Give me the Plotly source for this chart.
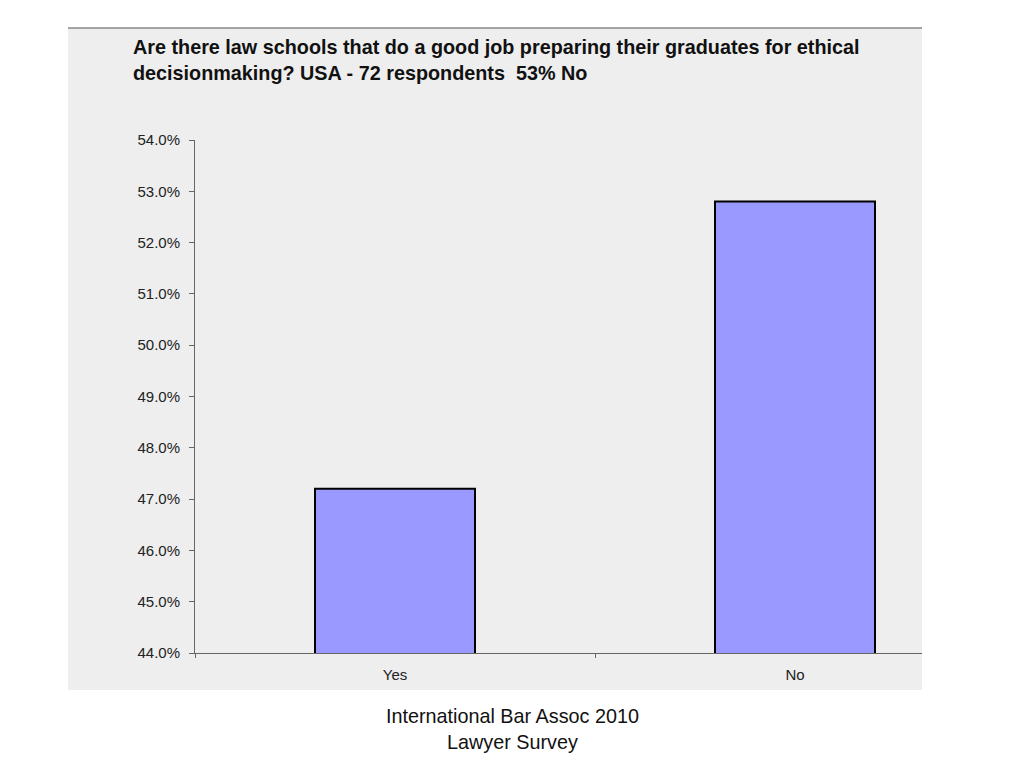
import plotly.graph_objects as go

categories = ["Yes", "No"]
values = [0.472, 0.528]
y_ticks = [0.44, 0.45, 0.46, 0.47, 0.48, 0.49, 0.50, 0.51, 0.52, 0.53, 0.54]
title_text = ("<b>Are there law schools that do a good job preparing their graduates for ethical<br>"
              "decisionmaking? USA - 72 respondents  53% No</b>")
footer_text = "International Bar Assoc 2010<br>Lawyer Survey"

OFF = 8  # page body margin offset
W, H = 1024 - 2 * OFF, 768 - 2 * OFF
L, R, T, B = 195 - OFF, 922 - OFF, 140 - OFF, 653 - OFF

def px_x(x):
    return (x - OFF - L) / (R - L)

def px_y(y):
    return (B - (y - OFF)) / (B - T)

fig = go.Figure()
fig.add_trace(go.Bar(
    x=categories, y=values, width=0.4,
    marker=dict(color="#9999ff", line=dict(color="#000000", width=2)),
))

fig.update_layout(
    width=W, height=H,
    margin=dict(l=L, r=W - R, t=T, b=H - B, pad=0),
    paper_bgcolor="white",
    plot_bgcolor="#eeeeee",
    showlegend=False,
    font=dict(family="Liberation Sans, Arial, sans-serif", color="#222222", size=15),
    xaxis=dict(
        range=[-0.5, -0.5 + (R - L) / 400],
        showgrid=False, zeroline=False,
        showline=True, linecolor="#666666", linewidth=1,
        ticks="outside", tickson="boundaries", ticklen=4, tickcolor="#666666",
        tickfont=dict(size=15, color="#222222"),
        ticklabelstandoff=8,
    ),
    yaxis=dict(
        range=[0.44, 0.54],
        tickvals=y_ticks, tickformat=".1%",
        showgrid=False, zeroline=False,
        showline=True, linecolor="#666666", linewidth=1,
        ticks="outside", ticklen=5, tickcolor="#666666",
        tickfont=dict(size=15, color="#222222"),
        ticklabelstandoff=6,
    ),
    shapes=[
        dict(type="rect", xref="paper", yref="paper",
             x0=px_x(68), x1=1.0, y0=px_y(690), y1=px_y(28),
             fillcolor="#eeeeee", line=dict(width=0), layer="below"),
        dict(type="line", xref="paper", yref="paper",
             x0=px_x(68), x1=1.0, y0=px_y(28), y1=px_y(28),
             line=dict(color="#888888", width=1.5)),
    ],
    annotations=[
        dict(text=title_text, xref="paper", yref="paper",
             x=px_x(131), y=px_y(34),
             xanchor="left", yanchor="top", align="left", showarrow=False,
             font=dict(size=19.8, color="#111111", family="Liberation Sans, Arial, sans-serif")),
        dict(text=footer_text, xref="paper", yref="paper",
             x=px_x(512), y=px_y(703),
             xanchor="center", yanchor="top", align="center", showarrow=False,
             font=dict(size=19.8, color="#111111", family="Liberation Sans, Arial, sans-serif")),
    ],
)

fig.write_html("out.html")
